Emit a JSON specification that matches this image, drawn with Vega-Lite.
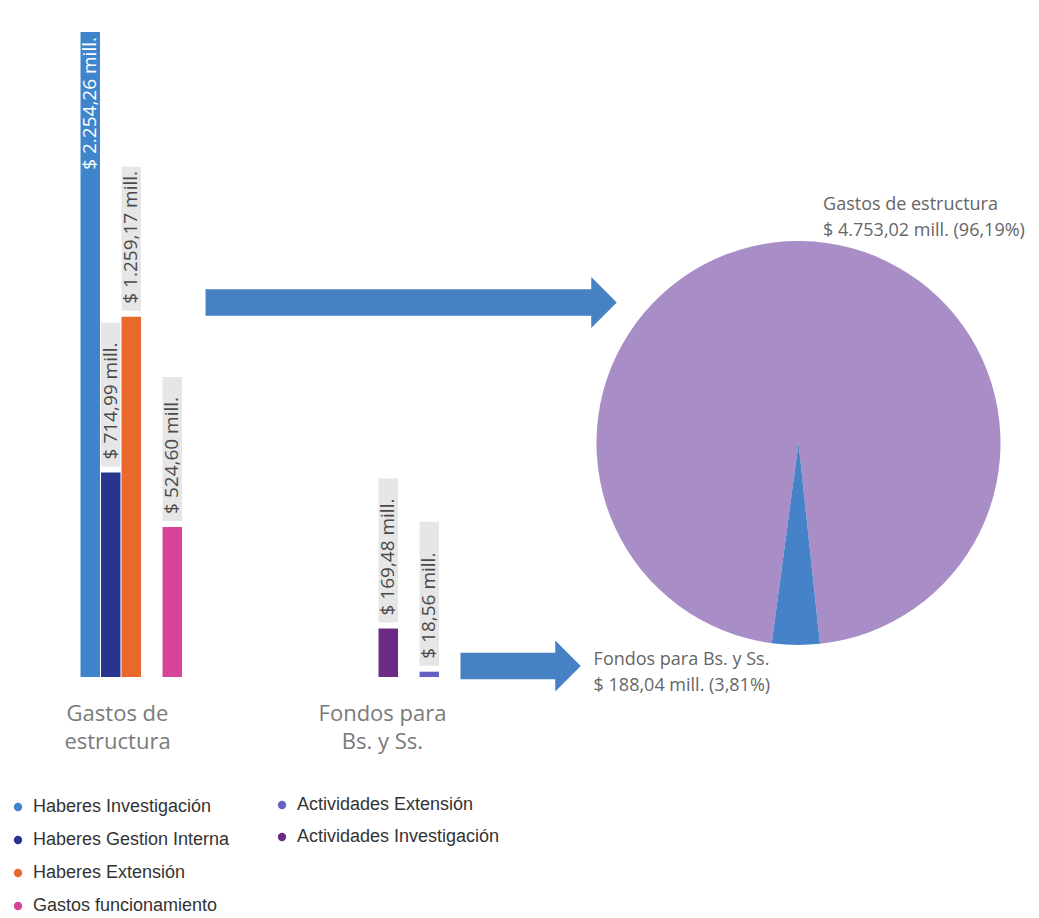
{
  "$schema": "https://vega.github.io/schema/vega-lite/v6.json",
  "padding": 0,
  "background": "white",
  "bounds": "flush",
  "spacing": 37.5,
  "config": {
    "view": {"stroke": null},
    "font": "Open Sans",
    "locale": {"number": {"decimal": ",", "thousands": ".", "grouping": [3], "currency": ["$ ", " mill."]}}
  },
  "datasets": {
    "barras": [
      {"grupo": "Gastos de estructura", "serie": "Haberes Investigación", "monto": 2254.26},
      {"grupo": "Gastos de estructura", "serie": "Haberes Gestion Interna", "monto": 714.99},
      {"grupo": "Gastos de estructura", "serie": "Haberes Extensión", "monto": 1259.17},
      {"grupo": "Gastos de estructura", "serie": "Gastos funcionamiento", "monto": 524.60},
      {"grupo": "Fondos para Bs. y Ss.", "serie": "Actividades Investigación", "monto": 169.48},
      {"grupo": "Fondos para Bs. y Ss.", "serie": "Actividades Extensión", "monto": 18.56}
    ],
    "torta": [
      {"cat": "Gastos de estructura", "monto": 4753.02, "etiqueta": ["Gastos de estructura", "$ 4.753,02 mill. (96,19%)"]},
      {"cat": "Fondos para Bs. y Ss.", "monto": 188.04, "etiqueta": ["Fondos para Bs. y Ss.", "$ 188,04 mill. (3,81%)"]}
    ],
    "flechas": [
      {"desde": "Gastos de estructura", "x0": -2.9356, "x1": -1.0198, "punta": -0.9629, "y": 0.6955},
      {"desde": "Fondos para Bs. y Ss.", "x0": -1.6733, "x1": -1.1931, "punta": -1.1411, "y": -1.104}
    ]
  },
  "hconcat": [
    {
      "width": 519.5,
      "height": 677,
      "data": {"name": "barras"},
      "encoding": {
        "x": {
          "field": "grupo", "type": "nominal", "sort": null,
          "scale": {"domain": ["Gastos de estructura", "Fondos para Bs. y Ss."], "paddingInner": 0.16113, "paddingOuter": 0.40921},
          "axis": {
            "title": null, "ticks": false, "tickSize": 0, "domain": false, "labelAngle": 0,
            "labelFont": "Open Sans", "labelFontSize": 22, "labelColor": "#7a7a7a",
            "labelPadding": 26, "labelLineHeight": 28, "labelBaseline": "top", "labelOverlap": false, "labelLimit": 0,
            "labelExpr": "datum.value === 'Gastos de estructura' ? ['Gastos de', 'estructura'] : ['Fondos para', 'Bs. y Ss.']",
            "labelOffset": {"condition": {"test": "datum.value === 'Gastos de estructura'", "value": -44.5}, "value": 25}
          }
        },
        "xOffset": {
          "field": "serie", "type": "nominal",
          "scale": {"domain": ["Haberes Investigación", "Haberes Gestion Interna", "Haberes Extensión", "_hueco1", "Gastos funcionamiento", "Actividades Investigación", "_hueco2", "Actividades Extensión"], "paddingInner": 0.05, "paddingOuter": 0.025}
        },
        "y": {"field": "monto", "type": "quantitative", "scale": {"domain": [0, 2366.1], "nice": false, "zero": true}, "axis": null}
      },
      "layer": [
        {
          "transform": [{"filter": "datum.grupo === 'Gastos de estructura'"}],
          "mark": {"type": "bar"},
          "encoding": {
            "color": {
              "field": "serie", "type": "nominal",
              "scale": {"domain": ["Haberes Investigación", "Haberes Gestion Interna", "Haberes Extensión", "Gastos funcionamiento"], "range": ["#3E85CC", "#28358F", "#E9682B", "#D9449B"]},
              "legend": {"title": null, "orient": "none", "legendX": 9, "legendY": 798, "direction": "vertical", "symbolType": "circle", "symbolSize": 70, "labelFont": "Liberation Sans", "labelFontSize": 18, "labelColor": "#333333", "rowPadding": 15, "labelOffset": 6, "padding": 0, "labelLimit": 400}
            }
          }
        },
        {
          "transform": [{"filter": "datum.grupo === 'Fondos para Bs. y Ss.'"}],
          "mark": {"type": "bar"},
          "encoding": {
            "color": {
              "field": "serie", "type": "nominal",
              "scale": {"domain": ["Actividades Extensión", "Actividades Investigación"], "range": ["#6560C4", "#6A2B84"]},
              "legend": {"title": null, "orient": "none", "legendX": 273, "legendY": 796, "direction": "vertical", "symbolType": "circle", "symbolSize": 70, "labelFont": "Liberation Sans", "labelFontSize": 18, "labelColor": "#333333", "rowPadding": 14, "labelOffset": 6, "padding": 0, "labelLimit": 400}
            }
          }
        },
        {
          "transform": [{"filter": "datum.serie !== 'Haberes Investigación'"}],
          "mark": {"type": "rect", "color": "#e6e6e6", "yOffset": -6, "y2Offset": -150},
          "encoding": {"y2": {"field": "monto"}}
        },
        {
          "transform": [{"filter": "datum.serie !== 'Haberes Investigación'"}],
          "mark": {"type": "text", "angle": 270, "align": "left", "baseline": "middle", "yOffset": -13, "fontSize": 19, "color": "#4a4a4a", "font": "Open Sans"},
          "encoding": {"text": {"field": "monto", "type": "quantitative", "format": "$,.2f"}}
        },
        {
          "transform": [{"filter": "datum.serie === 'Haberes Investigación'"}],
          "mark": {"type": "text", "angle": 270, "align": "right", "baseline": "middle", "yOffset": 5, "fontSize": 19, "color": "#ffffff", "font": "Open Sans"},
          "encoding": {"text": {"field": "monto", "type": "quantitative", "format": "$,.2f"}}
        }
      ],
      "resolve": {"scale": {"color": "independent"}, "legend": {"color": "independent"}}
    },
    {
      "width": 482,
      "height": 886,
      "layer": [
        {
          "data": {"name": "torta"},
          "mark": {"type": "arc", "outerRadius": 202},
          "encoding": {
            "theta": {"field": "monto", "type": "quantitative", "stack": true, "scale": {"range": [3.03513, 9.31832]}},
            "order": {"field": "cat", "sort": "ascending"},
            "color": {"field": "cat", "type": "nominal", "scale": {"domain": ["Gastos de estructura", "Fondos para Bs. y Ss."], "range": ["#A88DC6", "#4582C8"]}, "legend": null}
          }
        },
        {
          "data": {"name": "torta"},
          "mark": {"type": "text", "radius": 233, "align": "left", "baseline": "alphabetic", "dx": 21.5, "fontSize": 18, "lineHeight": 26, "color": "#666666", "font": "Open Sans"},
          "encoding": {
            "theta": {"field": "monto", "type": "quantitative", "stack": true},
            "order": {"field": "cat", "sort": "ascending"},
            "detail": {"field": "cat", "type": "nominal"},
            "text": {"condition": {"test": "datum.cat === 'Gastos de estructura'", "field": "etiqueta", "type": "nominal"}, "value": ""}
          }
        },
        {
          "data": {"name": "torta"},
          "mark": {"type": "text", "radius": 222, "align": "left", "baseline": "alphabetic", "dx": -202, "fontSize": 18, "lineHeight": 26, "color": "#666666", "font": "Open Sans"},
          "encoding": {
            "theta": {"field": "monto", "type": "quantitative", "stack": true},
            "order": {"field": "cat", "sort": "ascending"},
            "detail": {"field": "cat", "type": "nominal"},
            "text": {"condition": {"test": "datum.cat === 'Fondos para Bs. y Ss.'", "field": "etiqueta", "type": "nominal"}, "value": ""}
          }
        },
        {
          "data": {"name": "flechas"},
          "mark": {"type": "rule", "strokeWidth": 26.5, "color": "#4581C3", "strokeCap": "butt"},
          "encoding": {
            "x": {"field": "x0", "type": "quantitative", "scale": {"domain": [-1.1931, 1.1931], "nice": false, "zero": false}, "axis": null},
            "x2": {"field": "x1"},
            "y": {"field": "y", "type": "quantitative", "scale": {"domain": [-2.1931, 2.1931], "nice": false, "zero": false}, "axis": null}
          }
        },
        {
          "data": {"name": "flechas"},
          "mark": {"type": "point", "shape": "M-0.5,-1L0.5,0L-0.5,1Z", "size": 2601, "filled": true, "color": "#4581C3", "opacity": 1, "strokeWidth": 0},
          "encoding": {
            "x": {"field": "punta", "type": "quantitative", "scale": {"domain": [-1.1931, 1.1931], "nice": false, "zero": false}, "axis": null},
            "y": {"field": "y", "type": "quantitative", "scale": {"domain": [-2.1931, 2.1931], "nice": false, "zero": false}, "axis": null}
          }
        }
      ]
    }
  ],
  "resolve": {"scale": {"color": "independent"}, "legend": {"color": "independent"}}
}
